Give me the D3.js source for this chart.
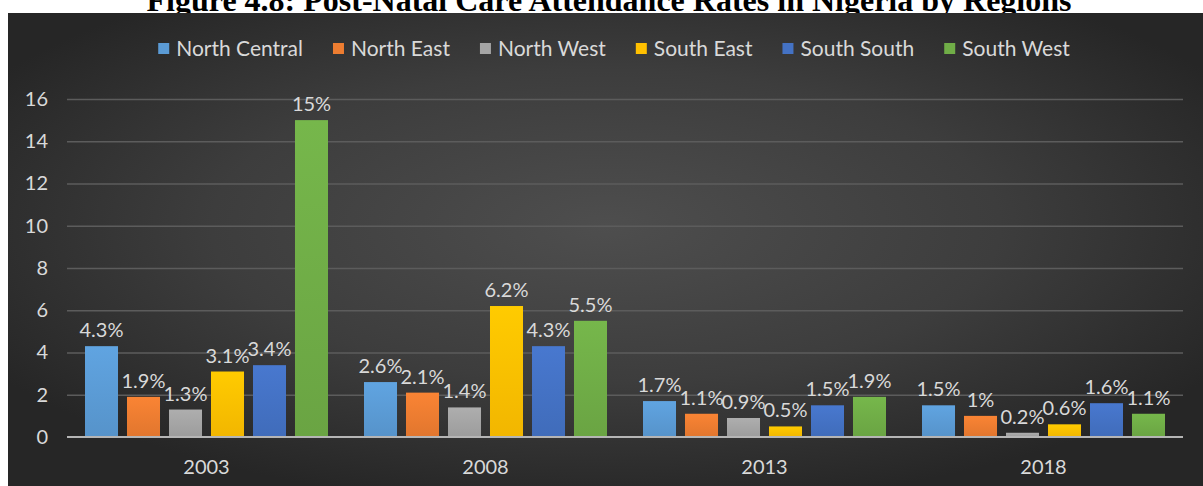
<!DOCTYPE html>
<html>
<head>
<meta charset="utf-8">
<script src="https://cdn.jsdelivr.net/npm/d3@7"></script>
<style>
  html, body { margin: 0; padding: 0; background: #ffffff; }
  svg { display: block; }
  text { font-family: Lato, "Open Sans", sans-serif; }
</style>
</head>
<body>
<svg id="chart" width="1203" height="486"></svg>
<script>
// Post-natal care attendance (%) by region and survey year
const years = ["2003", "2008", "2013", "2018"];
const regions = ["North Central", "North East", "North West", "South East", "South South", "South West"];
const northCentral = [4.3, 2.6, 1.7, 1.5];
const northEast    = [1.9, 2.1, 1.1, 1.0];
const northWest    = [1.3, 1.4, 0.9, 0.2];
const southEast    = [3.1, 6.2, 0.5, 0.6];
const southSouth   = [3.4, 4.3, 1.5, 1.6];
const southWest    = [15, 5.5, 1.9, 1.1];
const yTicks = [0, 2, 4, 6, 8, 10, 12, 14, 16];
const regionColors = ["#5B9BD5", "#ED7D31", "#A5A5A5", "#FFC000", "#4472C4", "#70AD47"];

const seriesValues = [northCentral, northEast, northWest, southEast, southSouth, southWest];
const rows = years.map((yr, i) => ({
  year: yr,
  values: regions.map((r, j) => ({ region: r, idx: j, value: seriesValues[j][i] }))
}));

const W = 1203, H = 486;
const panel = { x: 8, y: 13, w: W - 8, h: H - 13 };
const plot = { left: 67, right: 1183, top: 99, bottom: 437 };

const svg = d3.select("#chart");
const defs = svg.append("defs");

// dark panel with a soft radial light in the middle
const bg = defs.append("radialGradient").attr("id", "bgGrad")
  .attr("cx", "50%").attr("cy", "45%").attr("r", "60%");
bg.append("stop").attr("offset", "0%").attr("stop-color", "#4e4e4e");
bg.append("stop").attr("offset", "55%").attr("stop-color", "#3d3d3d");
bg.append("stop").attr("offset", "100%").attr("stop-color", "#262626");

regionColors.forEach((c, i) => {
  const g = defs.append("linearGradient").attr("id", "bar" + i)
    .attr("x1", 0).attr("y1", 0).attr("x2", 0).attr("y2", 1);
  g.append("stop").attr("offset", "0%").attr("stop-color", d3.color(c).brighter(0.15));
  g.append("stop").attr("offset", "100%").attr("stop-color", d3.color(c).darker(0.15));
});

// title (sits just above the panel)
svg.append("text")
  .attr("x", 609).attr("y", 11)
  .attr("text-anchor", "middle")
  .style("font-family", "'Liberation Serif', 'Times New Roman', serif")
  .style("font-weight", "bold")
  .style("font-size", "32px")
  .attr("fill", "#000")
  .text("Figure 4.8: Post-Natal Care Attendance Rates in Nigeria by Regions");

svg.append("rect")
  .attr("x", panel.x).attr("y", panel.y)
  .attr("width", panel.w).attr("height", panel.h)
  .attr("fill", "url(#bgGrad)");

// scales
const y = d3.scaleLinear().domain([0, 16]).range([plot.bottom, plot.top]);
const x0 = d3.scaleBand().domain(years).range([plot.left, plot.right]).padding(0);
const groupPad = 18;
const x1 = d3.scaleBand().domain(regions)
  .range([groupPad, x0.bandwidth() - groupPad]).paddingInner(0.214);

// gridlines
const yAxis = d3.axisLeft(y).tickValues(yTicks).tickSize(-(plot.right - plot.left)).tickPadding(19);
const gy = svg.append("g").attr("transform", `translate(${plot.left},0)`).call(yAxis);
gy.select(".domain").remove();
gy.selectAll(".tick line").attr("stroke", "#5c5c5c").attr("stroke-width", 1.5);
gy.selectAll(".tick text")
  .attr("fill", "#d9d9d9")
  .style("font-size", "20px")
  .style("font-family", "Lato, sans-serif");
gy.selectAll(".tick").filter(d => d === 0).select("line").attr("stroke", "none");

// bars
const groups = svg.append("g").selectAll("g")
  .data(rows).join("g")
  .attr("transform", d => `translate(${x0(d.year)},0)`);

groups.selectAll("rect")
  .data(d => d.values).join("rect")
  .attr("x", d => x1(d.region))
  .attr("width", x1.bandwidth())
  .attr("y", d => y(d.value))
  .attr("height", d => y(0) - y(d.value))
  .attr("fill", d => `url(#bar${d.idx})`);

// value labels
groups.selectAll("text.val")
  .data(d => d.values).join("text")
  .attr("class", "val")
  .attr("x", d => x1(d.region) + x1.bandwidth() / 2)
  .attr("y", d => y(d.value) - 9)
  .attr("text-anchor", "middle")
  .attr("fill", "#d9d9d9")
  .style("font-size", "20px")
  .text(d => d3.format("~g")(d.value) + "%");

// baseline
svg.append("line")
  .attr("x1", plot.left).attr("x2", plot.right)
  .attr("y1", y(0)).attr("y2", y(0))
  .attr("stroke", "#b5b5b5").attr("stroke-width", 2);

// category axis
const xAxis = d3.axisBottom(x0).tickSize(0).tickPadding(23);
const gx = svg.append("g").attr("transform", `translate(0,${y(0)})`).call(xAxis);
gx.select(".domain").remove();
gx.selectAll(".tick text")
  .attr("fill", "#d9d9d9")
  .style("font-size", "20px")
  .style("font-family", "Lato, sans-serif");

// legend
const legend = svg.append("g");
let cx = 0;
const items = legend.selectAll("g").data(regions).join("g");
items.append("rect")
  .attr("width", 11).attr("height", 11).attr("y", -6)
  .attr("fill", (d, i) => regionColors[i]);
items.append("text")
  .attr("x", 18).attr("y", 7)
  .attr("fill", "#d9d9d9")
  .style("font-size", "21px")
  .text(d => d);
items.each(function () {
  const g = d3.select(this);
  g.attr("transform", `translate(${cx},0)`);
  cx += 18 + g.select("text").node().getComputedTextLength() + 30;
});
const legendW = cx - 30;
legend.attr("transform", `translate(${614 - legendW / 2},49)`);
</script>
</body>
</html>
